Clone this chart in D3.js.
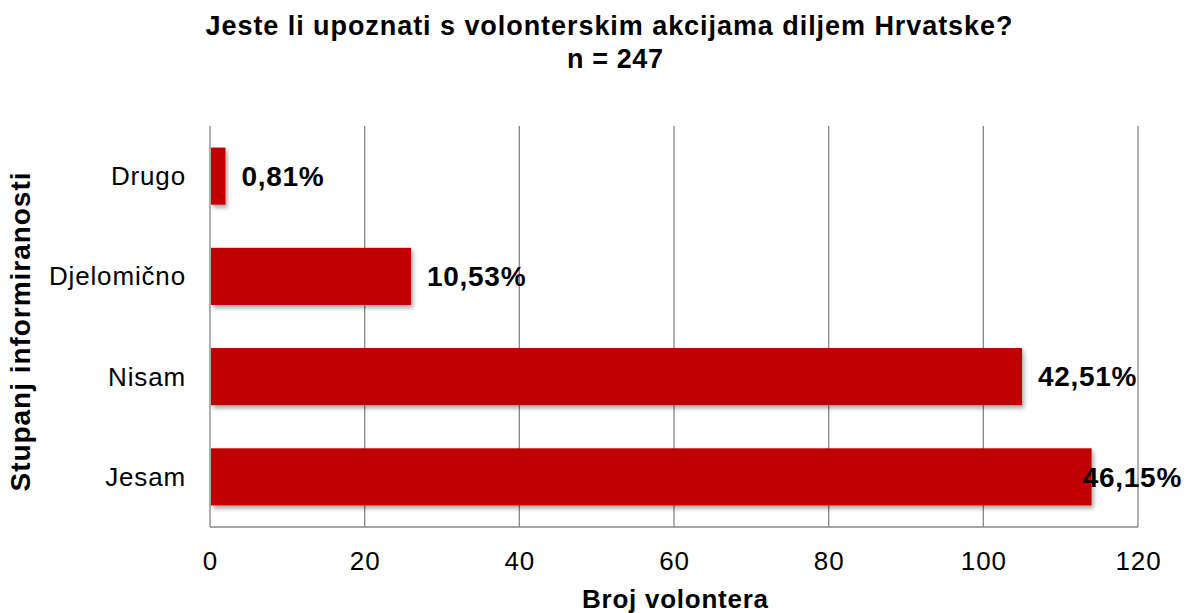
<!DOCTYPE html>
<html lang="hr">
<head>
<meta charset="UTF-8">
<title>Jeste li upoznati s volonterskim akcijama diljem Hrvatske?</title>
<script src="https://d3js.org/d3.v7.min.js"></script>
<style>
  body { margin: 0; background: #fff; font-family: 'Liberation Sans', Arial, sans-serif; }
  svg text { font-family: 'Liberation Sans', Arial, sans-serif; fill: #000; }
</style>
</head>
<body>
<svg id="chart"></svg>
<script>
// data
const categories = ['Jesam', 'Nisam', 'Djelomično', 'Drugo'];
const counts = [114, 105, 26, 2];
const percentLabels = ['46,15%', '42,51%', '10,53%', '0,81%'];
const xTicks = [0, 20, 40, 60, 80, 100, 120];

const width = 1185, height = 613;
const margin = { top: 126, right: 47, bottom: 86, left: 210 };
const innerW = width - margin.left - margin.right;
const innerH = height - margin.top - margin.bottom;

const svg = d3.select('#chart').attr('width', width).attr('height', height);

// drop shadow for bars
const defs = svg.append('defs');
defs.append('filter')
    .attr('id', 'shadow')
    .attr('x', '-10%').attr('y', '-20%').attr('width', '130%').attr('height', '160%')
    .append('feDropShadow')
    .attr('dx', 2).attr('dy', 3).attr('stdDeviation', 2)
    .attr('flood-color', '#000').attr('flood-opacity', 0.35);

const x = d3.scaleLinear().domain([0, 120]).range([0, innerW]);
const y = d3.scaleBand()
    .domain(categories.slice().reverse())
    .range([0, innerH])
    .paddingInner(0.43)
    .paddingOuter(0.215);

const g = svg.append('g').attr('transform', `translate(${margin.left},${margin.top})`);

// vertical gridlines
g.selectAll('.grid')
    .data(xTicks)
    .join('line')
    .attr('x1', d => x(d)).attr('x2', d => x(d))
    .attr('y1', 0).attr('y2', innerH)
    .attr('stroke', '#868686')
    .attr('stroke-width', 1.3);

// bottom axis line
g.append('line')
    .attr('x1', 0).attr('x2', innerW)
    .attr('y1', innerH).attr('y2', innerH)
    .attr('stroke', '#868686')
    .attr('stroke-width', 1.3);

// x tick labels
g.selectAll('.xtick')
    .data(xTicks)
    .join('text')
    .attr('x', d => x(d) + 0.5)
    .attr('y', innerH + 43)
    .attr('text-anchor', 'middle')
    .style('font-size', '26px')
    .style('letter-spacing', '0.9px')
    .text(d => d);

// category labels
g.selectAll('.ytick')
    .data(categories)
    .join('text')
    .attr('x', -24)
    .attr('y', d => y(d) + y.bandwidth() / 2)
    .attr('dy', '0.35em')
    .attr('text-anchor', 'end')
    .style('font-size', '26px')
    .style('letter-spacing', '0.85px')
    .text(d => d);

// bars
g.selectAll('.bar')
    .data(categories)
    .join('rect')
    .attr('x', x(0) + 1)
    .attr('y', d => y(d))
    .attr('width', (d, i) => x(counts[i]) - x(0) - 1)
    .attr('height', y.bandwidth())
    .attr('fill', '#c00000')
    .attr('filter', 'url(#shadow)');

// value labels, pulled back inside the frame when they would overflow
g.selectAll('.val')
    .data(categories)
    .join('text')
    .attr('y', d => y(d) + y.bandwidth() / 2)
    .attr('dy', '0.35em')
    .style('font-size', '28px')
    .style('font-weight', 'bold')
    .style('letter-spacing', '0.7px')
    .text((d, i) => percentLabels[i])
    .each(function (d, i) {
        const w = this.getComputedTextLength();
        const limit = width - margin.left - 3 - w;
        d3.select(this).attr('x', Math.min(x(counts[i]) + 16, limit));
    });

// titles
svg.append('text')
    .attr('x', 609).attr('y', 35)
    .attr('text-anchor', 'middle')
    .attr('textLength', 807).attr('lengthAdjust', 'spacing')
    .style('font-size', '27px').style('font-weight', 'bold')
    .text('Jeste li upoznati s volonterskim akcijama diljem Hrvatske?');
svg.append('text')
    .attr('x', 615).attr('y', 68)
    .attr('text-anchor', 'middle')
    .attr('textLength', 96).attr('lengthAdjust', 'spacing')
    .style('font-size', '27px').style('font-weight', 'bold')
    .text('n = 247');

svg.append('text')
    .attr('x', margin.left + innerW / 2 + 1).attr('y', 608)
    .attr('text-anchor', 'middle')
    .attr('textLength', 186).attr('lengthAdjust', 'spacing')
    .style('font-size', '26px').style('font-weight', 'bold')
    .text('Broj volontera');

svg.append('text')
    .attr('transform', `translate(30, 332) rotate(-90)`)
    .attr('text-anchor', 'middle')
    .attr('textLength', 319).attr('lengthAdjust', 'spacing')
    .style('font-size', '28px').style('font-weight', 'bold')
    .text('Stupanj informiranosti');
</script>
</body>
</html>
